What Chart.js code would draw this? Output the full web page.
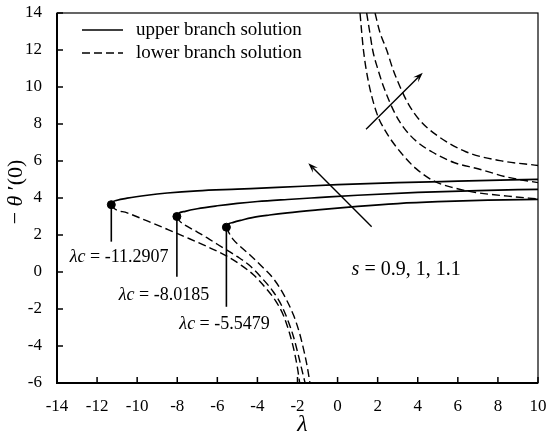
<!DOCTYPE html>
<html>
<head>
<meta charset="utf-8">
<script src="https://cdn.jsdelivr.net/npm/chart.js@4.4.1/dist/chart.umd.min.js"></script>
<style>html,body{margin:0;padding:0;background:#fff}</style>
</head>
<body>
<canvas id="chart" width="550" height="439"></canvas>
<script>
const SERIF = '"Liberation Serif", "DejaVu Serif", serif';

// axis ticks
const xTicks = [-14, -12, -10, -8, -6, -4, -2, 0, 2, 4, 6, 8, 10];
const yTicks = [-6, -4, -2, 0, 2, 4, 6, 8, 10, 12, 14];

// critical points, s = 1.1, 1, 0.9
const sValues = [1.1, 1, 0.9];
const lambdaC = [-11.2907, -8.0185, -5.5479];
const thetaC = [3.64, 3.0, 2.42];

// upper branch (solid)
const upper11X = [-11.2907, -11.22, -11.0, -10.5, -9.5, -8.5, -7, -5, -3, 0, 3, 6, 10];
const upper11Y = [3.64, 3.78, 3.88, 3.99, 4.15, 4.27, 4.39, 4.48, 4.57, 4.72, 4.83, 4.91, 5.01];
const upper10X = [-8.0185, -7.95, -7.6, -7, -6, -5, -4, -2.5, -1, 1, 4, 7, 10];
const upper10Y = [3.0, 3.14, 3.28, 3.42, 3.58, 3.71, 3.81, 3.92, 4.02, 4.15, 4.3, 4.4, 4.47];
const upper09X = [-5.5479, -5.48, -5.2, -4.8, -4.2, -3.4, -2.5, -1, 1, 3, 5, 7.5, 10];
const upper09Y = [2.42, 2.56, 2.68, 2.8, 2.95, 3.08, 3.2, 3.36, 3.55, 3.7, 3.8, 3.88, 3.93];

// lower branch (dashed), left part
const lowerL11X = [-11.2907, -11.2, -10.5, -9.5, -8.5, -7.5, -6.5, -5.5, -4.8, -4.2, -3.6, -3.1, -2.7, -2.4, -2.15, -2.0, -1.89];
const lowerL11Y = [3.64, 3.48, 3.2, 2.76, 2.31, 1.85, 1.37, 0.84, 0.36, -0.15, -0.85, -1.55, -2.35, -3.3, -4.35, -5.2, -6];
const lowerL10X = [-8.0185, -7.9, -7.5, -7, -6.5, -6, -5.5, -5, -4.4, -3.8, -3.2, -2.8, -2.45, -2.2, -1.98, -1.8, -1.62];
const lowerL10Y = [3.0, 2.78, 2.47, 2.16, 1.84, 1.5, 1.17, 0.83, 0.36, -0.3, -1.08, -1.8, -2.7, -3.5, -4.4, -5.2, -6];
const lowerL09X = [-5.5479, -5.45, -5.2, -4.8, -4.37, -3.8, -3.2, -2.7, -2.2, -1.9, -1.65, -1.5, -1.38];
const lowerL09Y = [2.42, 2.18, 1.75, 1.33, 0.92, 0.32, -0.36, -1.2, -2.33, -3.3, -4.4, -5.2, -6];

// lower branch (dashed), right part
const lowerR11X = [1.87, 2.1, 2.45, 2.75, 3.12, 3.55, 4.1, 5.0, 6.4, 8.1, 10];
const lowerR11Y = [14, 13, 12, 11, 10, 9.05, 8.2, 7.35, 6.5, 6.02, 5.76];
const lowerR10X = [1.45, 1.6, 1.75, 2.0, 2.3, 2.85, 3.3, 3.95, 4.7, 5.8, 7.0, 8.5, 10];
const lowerR10Y = [14, 13, 12, 11, 10, 8.6, 7.8, 7.05, 6.5, 5.92, 5.58, 5.12, 4.83];
const lowerR09X = [1.12, 1.2, 1.29, 1.5, 1.95, 2.4, 3.2, 3.9, 4.8, 5.8, 6.9, 8.5, 10];
const lowerR09Y = [14, 13, 12, 10.5, 8.6, 7.6, 6.4, 5.6, 4.92, 4.55, 4.3, 4.1, 3.95];

// annotations (data units)
const leaderEndY = [1.64, -0.25, -1.88];
const labelX = [-10.9, -8.66, -5.64];
const labelY = [0.8, -1.25, -2.85];
const solidArrow = [[1.70, 2.45], [-1.46, 5.88]];
const dashedArrow = [[1.42, 7.71], [4.25, 10.77]];
const sLabelPos = [3.42, 0.11];

const pts = (xs, ys) => xs.map((x, i) => ({x, y: ys[i]}));

function curve(xs, ys, dashed) {
    return {
        data: pts(xs, ys),
        borderColor: '#000',
        borderWidth: dashed ? 1.4 : 1.7,
        borderDash: dashed ? [8, 4] : [],
        pointRadius: 0,
        fill: false,
        cubicInterpolationMode: 'monotone'
    };
}

function drawRich(ctx, parts, x, y, size) {
    let w = 0;
    parts.forEach(p => {
        ctx.font = (p.it ? 'italic ' : '') + size + 'px ' + SERIF;
        w += ctx.measureText(p.t).width;
    });
    let cx = x - w / 2;
    ctx.textAlign = 'left';
    ctx.textBaseline = 'middle';
    parts.forEach(p => {
        ctx.font = (p.it ? 'italic ' : '') + size + 'px ' + SERIF;
        ctx.fillText(p.t, cx, y);
        cx += ctx.measureText(p.t).width;
    });
}

function arrow(ctx, x1, y1, x2, y2) {
    const ang = Math.atan2(y2 - y1, x2 - x1);
    const len = 10, half = 3.5;
    ctx.beginPath();
    ctx.moveTo(x1, y1);
    ctx.lineTo(x2 - Math.cos(ang) * len * 0.6, y2 - Math.sin(ang) * len * 0.6);
    ctx.stroke();
    ctx.beginPath();
    ctx.moveTo(x2, y2);
    ctx.lineTo(x2 - Math.cos(ang) * len - Math.sin(ang) * half, y2 - Math.sin(ang) * len + Math.cos(ang) * half);
    ctx.lineTo(x2 - Math.cos(ang) * len * 0.6, y2 - Math.sin(ang) * len * 0.6);
    ctx.lineTo(x2 - Math.cos(ang) * len + Math.sin(ang) * half, y2 - Math.sin(ang) * len - Math.cos(ang) * half);
    ctx.closePath();
    ctx.fill();
}

const overlay = {
    id: 'overlay',
    afterDatasetsDraw(chart) {
        const {ctx, chartArea: a, scales: {x, y}} = chart;
        const px = v => x.getPixelForValue(v);
        const py = v => y.getPixelForValue(v);
        ctx.save();
        ctx.strokeStyle = '#000';
        ctx.fillStyle = '#000';

        // frame
        ctx.lineWidth = 1.2;
        ctx.strokeRect(a.left, a.top, a.right - a.left, a.bottom - a.top);
        ctx.lineWidth = 2;
        ctx.beginPath();
        ctx.moveTo(a.left, a.top);
        ctx.lineTo(a.left, a.bottom);
        ctx.lineTo(a.right, a.bottom);
        ctx.stroke();

        // inward tick marks
        ctx.lineWidth = 1.5;
        x.ticks.forEach(t => {
            ctx.beginPath();
            ctx.moveTo(px(t.value), a.bottom);
            ctx.lineTo(px(t.value), a.bottom - 6);
            ctx.stroke();
        });
        y.ticks.forEach(t => {
            ctx.beginPath();
            ctx.moveTo(a.left, py(t.value));
            ctx.lineTo(a.left + 6, py(t.value));
            ctx.stroke();
        });

        // leader lines and critical value labels
        ctx.lineWidth = 1.6;
        lambdaC.forEach((lc, i) => {
            ctx.beginPath();
            ctx.moveTo(px(lc), py(thetaC[i]));
            ctx.lineTo(px(lc), py(leaderEndY[i]));
            ctx.stroke();
            drawRich(ctx, [{t: 'λc', it: true}, {t: ' = ' + lc.toFixed(4)}],
                px(labelX[i]), py(labelY[i]), 18);
        });

        // arrows
        ctx.lineWidth = 1.4;
        arrow(ctx, px(solidArrow[0][0]), py(solidArrow[0][1]), px(solidArrow[1][0]), py(solidArrow[1][1]));
        arrow(ctx, px(dashedArrow[0][0]), py(dashedArrow[0][1]), px(dashedArrow[1][0]), py(dashedArrow[1][1]));

        // s label
        drawRich(ctx, [{t: 's', it: true}, {t: ' = ' + sValues.slice().reverse().join(', ')}],
            px(sLabelPos[0]), py(sLabelPos[1]), 20);

        // legend
        const lx = a.left + 25, ly1 = a.top + 17, ly2 = a.top + 40;
        ctx.lineWidth = 1.7;
        ctx.beginPath();
        ctx.moveTo(lx, ly1);
        ctx.lineTo(lx + 41, ly1);
        ctx.stroke();
        ctx.lineWidth = 1.4;
        ctx.setLineDash([8, 4]);
        ctx.beginPath();
        ctx.moveTo(lx, ly2);
        ctx.lineTo(lx + 41, ly2);
        ctx.stroke();
        ctx.setLineDash([]);
        ctx.font = '19px ' + SERIF;
        ctx.textAlign = 'left';
        ctx.textBaseline = 'middle';
        ctx.fillText('upper branch solution', lx + 54, ly1);
        ctx.fillText('lower branch solution', lx + 54, ly2);

        // axis titles
        drawRich(ctx, [{t: 'λ', it: true}], (a.left + a.right) / 2 + 5, a.bottom + 42, 24);
        ctx.save();
        ctx.translate(16, (a.top + a.bottom) / 2 - 6);
        ctx.rotate(-Math.PI / 2);
        drawRich(ctx, [{t: '− '}, {t: 'θ', it: true}, {t: ' ′(0)'}], 0, 0, 22);
        ctx.restore();

        ctx.restore();
    }
};

const tickFont = {family: SERIF, size: 17};

new Chart(document.getElementById('chart'), {
    type: 'line',
    data: {
        datasets: [
            curve(upper11X, upper11Y, false),
            curve(upper10X, upper10Y, false),
            curve(upper09X, upper09Y, false),
            curve(lowerL11X, lowerL11Y, true),
            curve(lowerL10X, lowerL10Y, true),
            curve(lowerL09X, lowerL09Y, true),
            curve(lowerR11X, lowerR11Y, true),
            curve(lowerR10X, lowerR10Y, true),
            curve(lowerR09X, lowerR09Y, true),
            {
                type: 'scatter',
                data: pts(lambdaC, thetaC),
                pointRadius: 4,
                pointBackgroundColor: '#000',
                pointBorderColor: '#000'
            }
        ]
    },
    options: {
        responsive: false,
        animation: false,
        devicePixelRatio: 1,
        layout: {autoPadding: false, padding: {top: 13, right: 12, left: 0, bottom: 0}},
        plugins: {legend: {display: false}, tooltip: {enabled: false}},
        scales: {
            x: {
                type: 'linear', min: -14, max: 10,
                afterBuildTicks: s => { s.ticks = xTicks.map(value => ({value})); },
                afterFit: s => { s.height = 56; s.paddingLeft = 0; s.paddingRight = 0; },
                ticks: {font: tickFont, color: '#000', padding: 13, callback: v => String(v), maxRotation: 0},
                grid: {display: false, drawTicks: false},
                border: {display: false}
            },
            y: {
                type: 'linear', min: -6, max: 14,
                afterBuildTicks: s => { s.ticks = yTicks.map(value => ({value})); },
                afterFit: s => { s.width = 57; s.paddingTop = 0; s.paddingBottom = 0; },
                ticks: {font: tickFont, color: '#000', padding: 15, callback: v => String(v)},
                grid: {display: false, drawTicks: false},
                border: {display: false}
            }
        }
    },
    plugins: [overlay]
});
</script>
</body>
</html>
